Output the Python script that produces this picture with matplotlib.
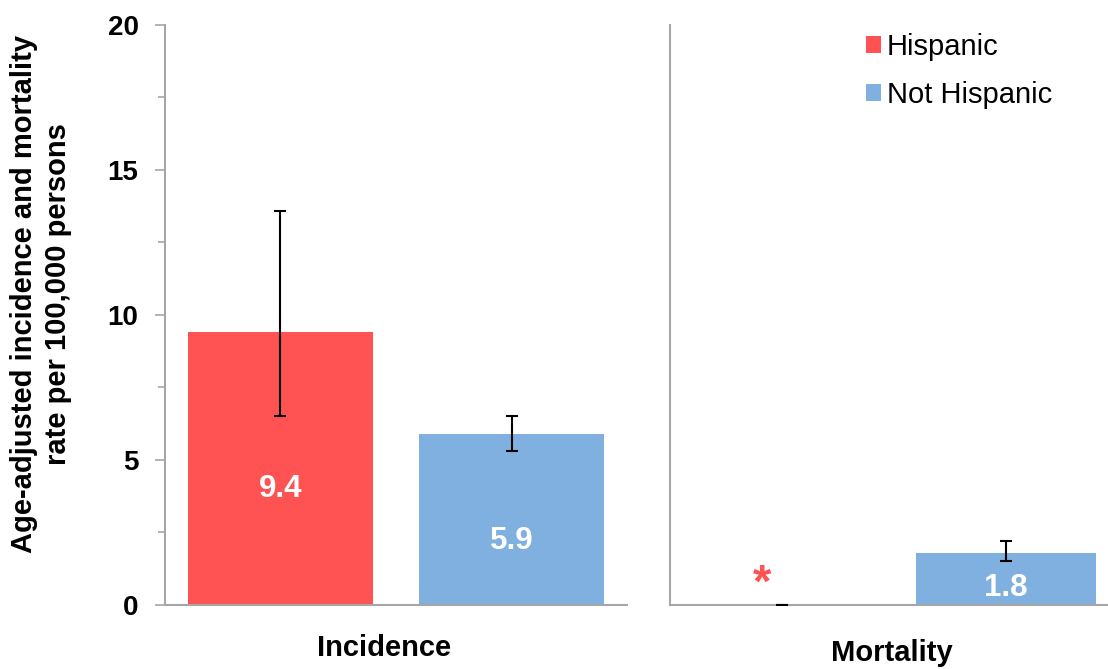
import matplotlib
matplotlib.use("Agg")
import matplotlib.pyplot as plt
from matplotlib.patches import Patch
import numpy as np

plt.rcParams["font.family"] = ["Liberation Sans", "DejaVu Sans"]

# 数据
groups = ["Hispanic", "Not Hispanic"]
panels = ["Incidence", "Mortality"]
incidence = [9.4, 5.9]
incidence_lo = [6.5, 5.3]
incidence_hi = [13.6, 6.5]
mortality = [0.0, 1.8]
mortality_lo = [0.0, 1.5]
mortality_hi = [0.0, 2.2]
mortality_suppressed = [True, False]

COLORS = ["#FF5353", "#80B0DF"]
SPINE = "#A6A6A6"

fig = plt.figure(figsize=(11.08, 6.69), dpi=100)
ax1 = fig.add_axes([0.1489, 0.0957, 0.4170, 0.8670])
ax2 = fig.add_axes([0.6047, 0.0957, 0.4043, 0.8670])

x = np.arange(len(groups))


def draw_panel(ax, values, lo, hi, label_y):
    vals = np.array(values)
    yerr = [vals - np.array(lo), np.array(hi) - vals]
    ax.bar(x, vals, width=0.8, color=COLORS, zorder=2)
    ax.errorbar(x, vals, yerr=yerr, fmt="none", ecolor="black",
                elinewidth=1.5, capsize=4.5, capthick=1.5, zorder=3)
    for xi, v, ly in zip(x, values, label_y):
        if v > 0:
            ax.text(xi, ly, f"{v:.1f}", ha="center", va="center",
                    color="white", fontsize=22.5, fontweight="bold", zorder=4)
    ax.set_xlim(-0.5, 1.5)
    ax.set_ylim(0, 20)
    ax.set_xticks([])
    ax.spines["top"].set_visible(False)
    ax.spines["right"].set_visible(False)
    for s in ("left", "bottom"):
        ax.spines[s].set_color(SPINE)
        ax.spines[s].set_linewidth(1.5)


draw_panel(ax1, incidence, incidence_lo, incidence_hi, [4.0, 2.2])
draw_panel(ax2, mortality, mortality_lo, mortality_hi, [0, 0.6])

# 被抑制的数据用星号标出
for xi, sup in zip(x, mortality_suppressed):
    if sup:
        ax2.text(xi - 0.09, 0.27, "*", ha="center", va="baseline",
                 color=COLORS[0], fontsize=34, fontweight="bold")

ax1.set_yticks([0, 5, 10, 15, 20])
ax1.set_yticks(np.arange(0, 20.1, 2.5), minor=True)
ax1.tick_params(axis="y", which="major", length=7, width=1.2, color=SPINE,
                pad=12, labelsize=20)
ax1.tick_params(axis="y", which="minor", length=5, width=1.2, color=SPINE)
for lab in ax1.get_yticklabels():
    lab.set_fontweight("bold")

ax2.set_yticks([])

ax1.text(0.474, -0.075, panels[0], transform=ax1.transAxes, ha="center",
         va="center", fontsize=21, fontweight="bold")
ax2.text(0.495, -0.082, panels[1], transform=ax2.transAxes, ha="center",
         va="center", fontsize=21, fontweight="bold")

fig.text(0.037, 0.56, "Age-adjusted incidence and mortality\nrate per 100,000 persons",
         rotation=90, ha="center", va="center", fontsize=21, fontweight="bold",
         linespacing=1.25)

handles = [Patch(facecolor=c, edgecolor="none") for c in COLORS]
fig.legend(handles, groups, loc="upper left", bbox_to_anchor=(0.768, 0.972),
           frameon=False, fontsize=21, handlelength=0.52, handleheight=0.52,
           handletextpad=0.22, labelspacing=0.66, borderpad=0)

fig.savefig("out.png", dpi=100)
